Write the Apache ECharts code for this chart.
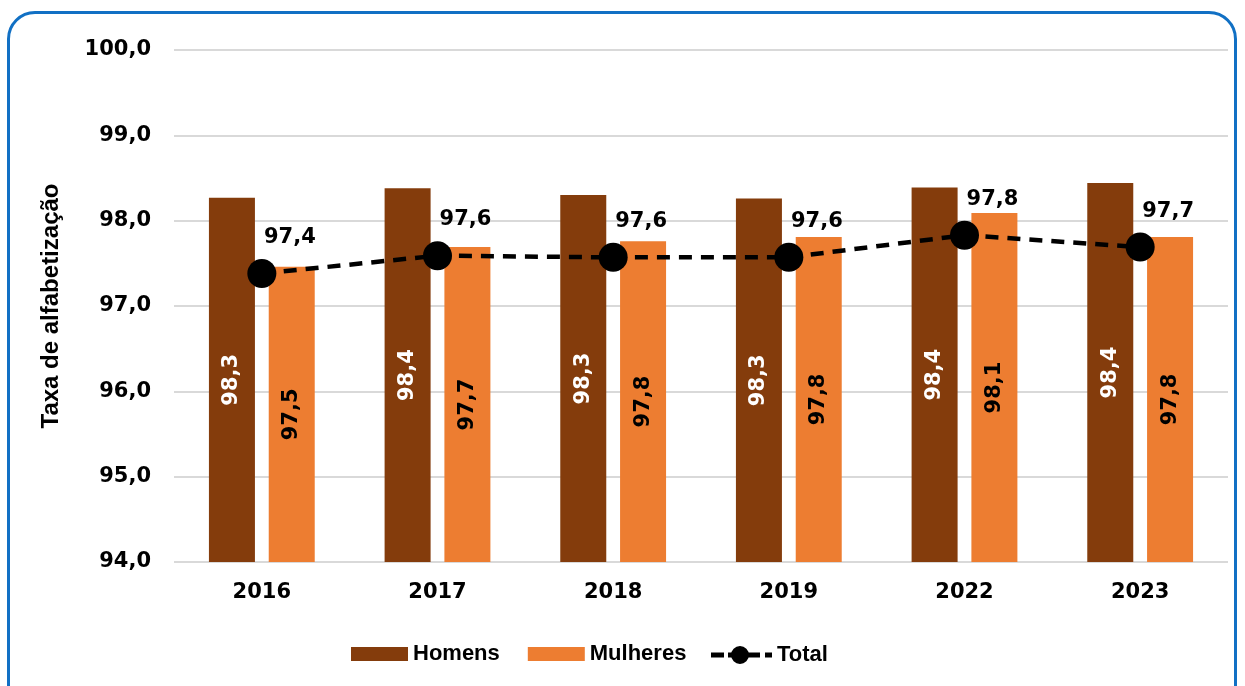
<!DOCTYPE html>
<html>
<head>
<meta charset="utf-8">
<script src="https://cdn.jsdelivr.net/npm/echarts@6/dist/echarts.min.js"></script>
<style>
  html, body { margin: 0; padding: 0; background: #fff; }
  #wrap { position: relative; width: 1245px; height: 686px; overflow: hidden; }
  #frame { position: absolute; left: 7px; top: 11px; width: 1230px; height: 720px;
           border: 3px solid #1170C4; border-radius: 28px; box-sizing: border-box; }
  #chart { position: absolute; left: 0; top: 0; width: 1245px; height: 686px; }
</style>
</head>
<body>
<div id="wrap">
  <div id="frame"></div>
  <div id="chart"></div>
</div>
<script>
// dados
var anos = ['2016', '2017', '2018', '2019', '2022', '2023'];
var homens = [98.27, 98.38, 98.30, 98.26, 98.39, 98.44];
var mulheres = [97.46, 97.69, 97.76, 97.81, 98.09, 97.81];
var total = [97.38, 97.59, 97.57, 97.57, 97.83, 97.69];

var fonte = '"DejaVu Sans", Verdana, sans-serif';
var fonteTexto = '"Liberation Sans", Arial, sans-serif';

// ícone da legenda do Total: traço - bola - ponto
var iconeTotal = 'path://M0,6.5H13V11.5H0Z M17,6.5H49V11.5H17Z M20,9A9,9 0 1,1 38,9A9,9 0 1,1 20,9Z M54,6.5H61V11.5H54Z';

function virgula(v) {
  return v.toFixed(1).replace('.', ',');
}

var chart = echarts.init(document.getElementById('chart'));
var option = {
  animation: false,
  grid: { left: 174, right: 17, top: 50, bottom: 124 },
  legend: [
    {
      left: 346,
      top: 638,
      itemWidth: 57,
      itemHeight: 14,
      itemGap: 28,
      textStyle: { fontFamily: fonteTexto, fontWeight: 'bold', fontSize: 22, color: '#000' },
      data: [
        { name: 'Homens', icon: 'rect' },
        { name: 'Mulheres', icon: 'rect' }
      ]
    },
    {
      left: 706,
      top: 639,
      itemWidth: 61,
      itemHeight: 18,
      textStyle: { fontFamily: fonteTexto, fontWeight: 'bold', fontSize: 22, color: '#000' },
      data: [{ name: 'Total', icon: iconeTotal }]
    }
  ],
  xAxis: {
    type: 'category',
    data: anos,
    axisLine: { show: false },
    axisTick: { show: false },
    axisLabel: { fontFamily: fonte, fontWeight: 'bold', fontSize: 21, color: '#000', margin: 20 }
  },
  yAxis: {
    type: 'value',
    min: 94,
    max: 100,
    interval: 1,
    name: 'Taxa de alfabetização',
    nameLocation: 'middle',
    nameGap: 111,
    nameTextStyle: { fontFamily: fonteTexto, fontWeight: 'bold', fontSize: 24, color: '#000' },
    splitLine: { lineStyle: { color: '#D9D9D9', width: 2 } },
    axisLabel: {
      fontFamily: fonte, fontWeight: 'bold', fontSize: 21, color: '#000', margin: 23,
      formatter: function (v) { return virgula(v); }
    }
  },
  series: [
    {
      name: 'Homens',
      type: 'bar',
      barWidth: 46,
      barGap: '30%',
      itemStyle: { color: '#843C0C' },
      label: {
        show: true, position: 'inside', rotate: 90,
        fontFamily: fonte, fontWeight: 'bold', fontSize: 21, color: '#fff',
        formatter: function (p) { return virgula(p.value); }
      },
      data: homens
    },
    {
      name: 'Mulheres',
      type: 'bar',
      barWidth: 46,
      itemStyle: { color: '#ED7D31' },
      label: {
        show: true, position: 'inside', rotate: 90,
        fontFamily: fonte, fontWeight: 'bold', fontSize: 21, color: '#000',
        formatter: function (p) { return virgula(p.value); }
      },
      data: mulheres
    },
    {
      name: 'Total',
      type: 'line',
      symbol: 'circle',
      symbolSize: 29,
      itemStyle: { color: '#000' },
      lineStyle: { color: '#000', width: 4.5, type: [13, 9] },
      label: {
        show: true, position: 'top', offset: [28, -6],
        fontFamily: fonte, fontWeight: 'bold', fontSize: 21, color: '#000',
        formatter: function (p) { return virgula(p.value); }
      },
      data: total
    }
  ]
};
chart.setOption(option);
</script>
</body>
</html>
